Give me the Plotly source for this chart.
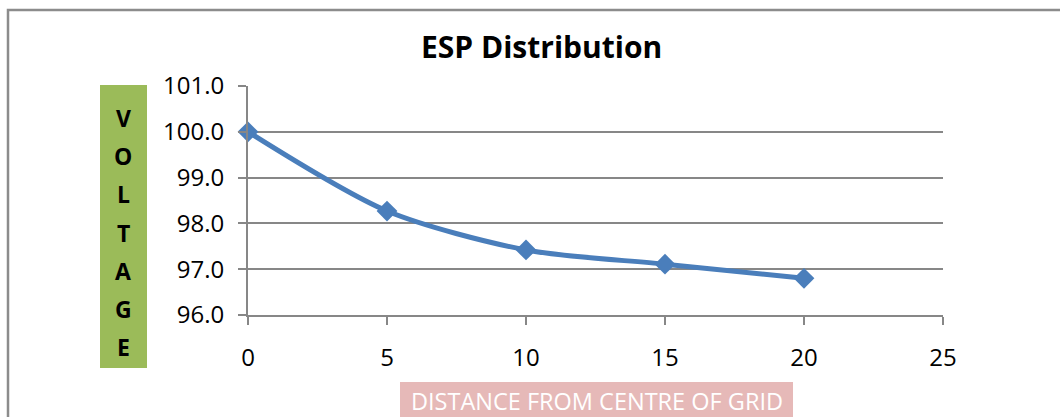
import plotly.graph_objects as go

# Distance from the centre of the grid and the ESP voltage measured there
distance = [0, 5, 10, 15, 20]
voltage = [100.0, 98.27, 97.42, 97.11, 96.80]

title_text = "ESP Distribution"
y_title = "VOLTAGE"
x_title = "DISTANCE FROM CENTRE OF GRID"
y_ticks = [96, 97, 98, 99, 100, 101]
x_ticks = [0, 5, 10, 15, 20, 25]

W, H = 1060, 417
L, R, T, B = 248, 943, 86, 315  # plot area in pixels


def px(x):
    return (x - L) / (R - L)


def py(y):
    return (B - y) / (B - T)


fig = go.Figure()
fig.add_trace(go.Scatter(
    x=distance, y=voltage, mode="lines+markers",
    line=dict(color="#4A7EBB", width=5, shape="spline", smoothing=0.8),
    marker=dict(symbol="diamond", size=16, color="#4A7EBB"),
    showlegend=False, cliponaxis=False,
))

grey = "#878787"
fig.update_xaxes(
    range=[0, 25], tickvals=x_ticks, showgrid=False, zeroline=False,
    showline=True, linecolor=grey, linewidth=2,
    ticks="outside", ticklen=8, tickwidth=2, tickcolor=grey,
    tickfont=dict(family="Open Sans", size=24, color="#000"),
    ticklabelstandoff=12,
)
fig.update_yaxes(
    range=[96, 101], tickvals=y_ticks, tickformat=".1f",
    showgrid=True, gridcolor=grey, gridwidth=2, zeroline=False,
    showline=True, linecolor=grey, linewidth=2,
    ticks="outside", ticklen=8, tickwidth=2, tickcolor=grey,
    tickfont=dict(family="Open Sans", size=24, color="#000"),
    ticklabelstandoff=9,
)

shapes = [
    # chart frame
    dict(type="rect", xref="paper", yref="paper",
         x0=px(8), x1=px(1080), y0=py(10), y1=py(440),
         line=dict(color="#8c8c8c", width=2.5), fillcolor="rgba(0,0,0,0)", layer="below"),
    # y title box
    dict(type="rect", xref="paper", yref="paper",
         x0=px(100), x1=px(147), y0=py(85), y1=py(368),
         line=dict(width=0), fillcolor="#9BBB59", layer="below"),
    # x title box
    dict(type="rect", xref="paper", yref="paper",
         x0=px(400), x1=px(793), y0=py(382), y1=py(430),
         line=dict(width=0), fillcolor="#E6B9B8", layer="below"),
]

annotations = [
    dict(text="<b>%s</b>" % title_text, xref="paper", yref="paper",
         x=px(541), y=py(47), xanchor="center", yanchor="middle", showarrow=False,
         font=dict(family="Open Sans", size=30, color="#000")),
    dict(text=x_title, xref="paper", yref="paper",
         x=px(597), y=py(401), xanchor="center", yanchor="middle", showarrow=False,
         font=dict(family="Open Sans", size=23.5, color="#FFFFFF")),
]
for i, ch in enumerate(y_title):
    annotations.append(dict(
        text="<b>%s</b>" % ch, xref="paper", yref="paper",
        x=px(123.5), y=py(118 + i * 38.2), xanchor="center", yanchor="middle",
        showarrow=False, font=dict(family="Open Sans", size=23, color="#000")))

fig.update_layout(
    width=W, height=H,
    margin=dict(l=L, r=W - R, t=T, b=H - B),
    paper_bgcolor="#FFFFFF", plot_bgcolor="#FFFFFF",
    shapes=shapes, annotations=annotations,
)

fig.write_html("out.html")
